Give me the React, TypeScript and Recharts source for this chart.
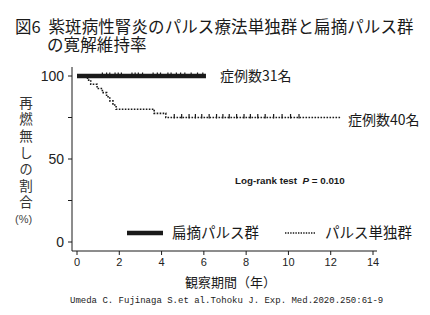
import React from 'react';
import { ComposedChart, Line, Scatter, XAxis, YAxis } from 'recharts';

// Kaplan–Meier steps (years, % relapse-free)
const tonsilTimes = [0, 6.1];
const tonsilSurvival = [100, 100];
const tonsilCensored = [1.2, 1.4, 1.55, 1.8, 1.95, 2.1, 2.6, 2.75, 2.9, 3.1, 3.6, 3.8, 3.95, 4.3, 4.45, 4.7, 4.9, 5.1, 5.4, 5.7, 5.95];

const pulseTimes = [0, 0.5, 0.65, 0.95, 1.2, 1.4, 1.55, 1.7, 1.85, 3.65, 4.2, 12.5];
const pulseSurvival = [100, 97.5, 95, 92.5, 90, 87.5, 85, 82.5, 80, 77.5, 75, 75];
const pulseCensored = [4.6, 4.95, 5.3, 5.6, 5.9, 6.25, 6.6, 6.9, 7.2, 7.55, 7.9, 8.2, 8.55, 8.9, 9.3, 9.7, 10.1, 10.5];

const xTicks = [0, 2, 4, 6, 8, 10, 12, 14];
const yTicks = [0, 25, 50, 75, 100];
const yLabelled = [0, 50, 100];

const tonsilData = tonsilTimes.map((t, i) => ({ t, s: tonsilSurvival[i] }));
const pulseData = pulseTimes.map((t, i) => ({ t, s: pulseSurvival[i] }));

// censor marks sit on the curve at the survival level in force at that time
const levelAt = (times: number[], vals: number[], x: number) => {
  let v = vals[0];
  times.forEach((t, i) => { if (t <= x) v = vals[i]; });
  return v;
};
const tonsilMarks = tonsilCensored.map(t => ({ t, s: levelAt(tonsilTimes, tonsilSurvival, t) }));
const pulseMarks = pulseCensored.map(t => ({ t, s: levelAt(pulseTimes, pulseSurvival, t) }));

const ink = '#1a1a1a';
const jp = '"Noto Sans CJK JP", "Noto Sans", sans-serif';
const latin = 'Arial, "Liberation Sans", sans-serif';

const CensorTick = (props: any) => {
  const { cx, cy } = props;
  return <line x1={cx} x2={cx} y1={cy - 3.5} y2={cy + 1} stroke={ink} strokeWidth={1.2} />;
};

const abs = (left: number, top: number, extra: React.CSSProperties = {}): React.CSSProperties => ({
  position: 'absolute', left, top, whiteSpace: 'nowrap', lineHeight: 1, ...extra,
});

export default function App() {
  return (
    <div style={{ position: 'absolute', left: 0, top: 0, width: 430, height: 315, background: '#fff', fontFamily: jp, color: ink }}>
      {/* two-line heading, second line hangs under the text after the figure number */}
      <div style={abs(47, 18, { fontSize: 16.5, lineHeight: '17.5px', whiteSpace: 'normal', width: 380, textIndent: -32, letterSpacing: 0.1 })}>
        図6&nbsp;&nbsp;紫斑病性腎炎のパルス療法単独群と扁摘パルス群<br />の寛解維持率
      </div>

      <div style={abs(18.5, 96, { fontSize: 13.5, color: '#333', writingMode: 'vertical-rl', letterSpacing: 3.1 })}>
        再燃無しの割合
      </div>
      <div style={abs(15, 214, { fontSize: 11, color: '#444', fontFamily: latin })}>(%)</div>

      <ComposedChart width={430} height={315} margin={{ top: 67, right: 53, bottom: 34, left: 42 }}>
        <XAxis
          type="number"
          dataKey="t"
          domain={[0, 14]}
          ticks={xTicks}
          padding={{ left: 5, right: 4 }}
          height={30}
          tickSize={4}
          tickMargin={3}
          stroke={ink}
          tick={{ fill: '#222', fontSize: 11, fontFamily: latin }}
          allowDuplicatedCategory={false}
        />
        <YAxis
          type="number"
          dataKey="s"
          domain={[0, 100]}
          ticks={yTicks}
          padding={{ top: 9, bottom: 9 }}
          width={30}
          tickSize={4}
          tickMargin={4}
          stroke={ink}
          tickFormatter={(v: number) => (yLabelled.includes(v) ? String(v) : '')}
          tick={{ fill: '#222', fontSize: 14, fontFamily: latin }}
        />
        <Line
          data={pulseData}
          dataKey="s"
          type="stepAfter"
          stroke={ink}
          strokeWidth={1.6}
          strokeDasharray="1.6 1.4"
          dot={false}
          isAnimationActive={false}
        />
        <Line
          data={tonsilData}
          dataKey="s"
          type="stepAfter"
          stroke={ink}
          strokeWidth={4.5}
          dot={false}
          isAnimationActive={false}
        />
        <Scatter data={pulseMarks} dataKey="s" shape={<CensorTick />} isAnimationActive={false} />
        <Scatter data={tonsilMarks} dataKey="s" shape={<CensorTick />} isAnimationActive={false} />
      </ComposedChart>

      <div style={abs(220, 68, { fontSize: 14 })}>症例数31名</div>
      <div style={abs(348, 112, { fontSize: 14 })}>症例数40名</div>
      <div style={abs(235, 176, { fontSize: 9.8, fontWeight: 700, fontFamily: latin })}>
        Log-rank test&nbsp;&nbsp;<i>P</i> = 0.010
      </div>

      <svg style={{ position: 'absolute', left: 0, top: 0 }} width={430} height={315}>
        <line x1={127} x2={163} y1={233} y2={233} stroke={ink} strokeWidth={4.5} />
        <line x1={285} x2={315} y1={233} y2={233} stroke={ink} strokeWidth={1.4} strokeDasharray="1.4 1.2" />
      </svg>
      <div style={abs(172, 225, { fontSize: 14.5 })}>扁摘パルス群</div>
      <div style={abs(325, 225, { fontSize: 14.5 })}>パルス単独群</div>

      <div style={abs(185, 275, { fontSize: 13 })}>観察期間（年）</div>
      <div style={abs(70, 297, { fontSize: 9, fontFamily: '"Liberation Mono", "DejaVu Sans Mono", monospace', color: '#222' })}>
        Umeda C. Fujinaga S.et al.Tohoku J. Exp. Med.2020.250:61-9
      </div>
    </div>
  );
}
